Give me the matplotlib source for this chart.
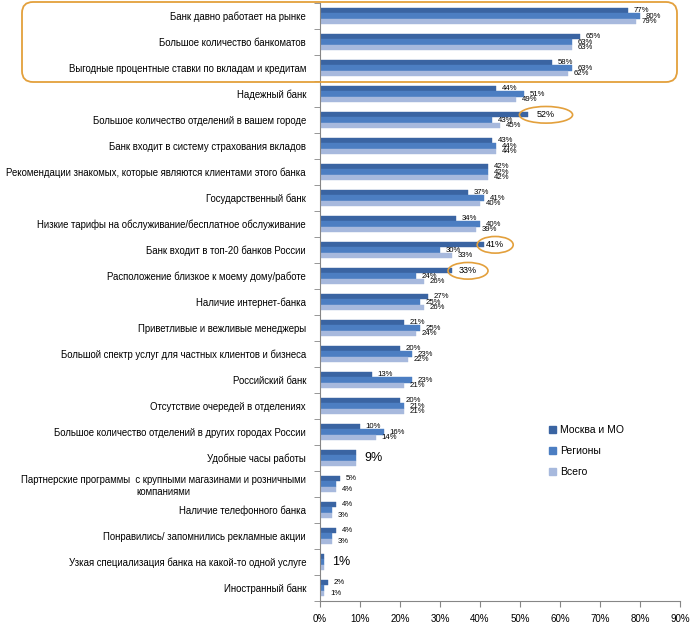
import matplotlib.pyplot as plt
import numpy as np
from matplotlib.patches import Ellipse, FancyBboxPatch, Patch
from matplotlib.transforms import IdentityTransform

plt.rcParams["font.family"] = ["Liberation Sans", "DejaVu Sans"]

categories = [
    "Банк давно работает на рынке",
    "Большое количество банкоматов",
    "Выгодные процентные ставки по вкладам и кредитам",
    "Надежный банк",
    "Большое количество отделений в вашем городе",
    "Банк входит в систему страхования вкладов",
    "Рекомендации знакомых, которые являются клиентами этого банка",
    "Государственный банк",
    "Низкие тарифы на обслуживание/бесплатное обслуживание",
    "Банк входит в топ-20 банков России",
    "Расположение близкое к моему дому/работе",
    "Наличие интернет-банка",
    "Приветливые и вежливые менеджеры",
    "Большой спектр услуг для частных клиентов и бизнеса",
    "Российский банк",
    "Отсутствие очередей в отделениях",
    "Большое количество отделений в других городах России",
    "Удобные часы работы",
    "Партнерские программы  с крупными магазинами и розничными\nкомпаниями",
    "Наличие телефонного банка",
    "Понравились/ запомнились рекламные акции",
    "Узкая специализация банка на какой-то одной услуге",
    "Иностранный банк",
]
moscow = [77, 65, 58, 44, 52, 43, 42, 37, 34, 41, 33, 27, 21, 20, 13, 20, 10, 9, 5, 4, 4, 1, 2]
regions = [80, 63, 63, 51, 43, 44, 42, 41, 40, 30, 24, 25, 25, 23, 23, 21, 16, 9, 4, 3, 3, 1, 1]
total = [79, 63, 62, 49, 45, 44, 42, 40, 39, 33, 26, 26, 24, 22, 21, 21, 14, 9, 4, 3, 3, 1, 1]
series_names = ["Москва и МО", "Регионы", "Всего"]
xticks = [0, 10, 20, 30, 40, 50, 60, 70, 80, 90]

colors = ["#3A64A2", "#4C7EC2", "#A7B9DD"]
orange = "#E3A03C"

# rows with a single big label, rows with only top/bottom labels, circled labels
single_label_rows = [17, 21]
two_label_rows = [18, 19, 20, 22]
circled = {4: (56.5, 13.3), 9: (43.8, 9.0), 10: (37.0, 10.0)}

fig = plt.figure(figsize=(6.92, 6.32), dpi=100)
ax = fig.add_axes([320 / 692, 31 / 632, 360 / 692, 598 / 632])

y = np.arange(len(categories))
h = 0.21
offsets = [-h, 0, h]
for vals, off, c in zip([moscow, regions, total], offsets, colors):
    ax.barh(y + off, vals, height=h, color=c, edgecolor=c, linewidth=0.3)

for i in y:
    vals = [moscow[i], regions[i], total[i]]
    if i in single_label_rows:
        ax.text(vals[0] + 2, i, f"{vals[0]}%", fontsize=9, va="center", ha="left")
        continue
    for k, (v, off) in enumerate(zip(vals, offsets)):
        if i in two_label_rows and k == 1:
            continue
        if i in circled and k == 0:
            cx, w = circled[i]
            ax.add_patch(Ellipse((cx, i - 0.2), w, 0.64, fill=False,
                                 edgecolor=orange, linewidth=1.2, clip_on=False))
            ax.text(cx, i - 0.2, f"{v}%", fontsize=6.5, va="center", ha="center")
            continue
        dx = 1.5 if i in two_label_rows else 1.4
        ax.text(v + dx, i + off, f"{v}%", fontsize=5.6, va="center", ha="left")

ax.set_xlim(0, 90)
ax.set_ylim(len(categories) - 0.5, -0.5)
ax.set_xticks(xticks)
ax.set_xticklabels([f"{t}%" for t in xticks], fontsize=7)
ax.set_yticks(y)
ax.set_yticklabels(categories, fontsize=6.9, multialignment="center")
ax.set_yticks(np.arange(len(categories) + 1) - 0.5, minor=True)
ax.tick_params(axis="y", which="major", length=0, pad=10)
ax.tick_params(axis="y", which="minor", length=4, color="#868686")
ax.tick_params(axis="x", length=4, color="#868686", pad=5)
for s in ["top", "right"]:
    ax.spines[s].set_visible(False)
for s in ["left", "bottom"]:
    ax.spines[s].set_color("#868686")

# orange rounded box around the top three reasons
fig.patches.append(FancyBboxPatch((22, 632 - 82), 655, 80,
                                  boxstyle="round,pad=0,rounding_size=11",
                                  fill=False, edgecolor=orange, linewidth=1.3,
                                  transform=IdentityTransform(), figure=fig))

handles = [Patch(facecolor=c, edgecolor=c) for c in colors]
fig.legend(handles, series_names, loc="upper left",
           bbox_to_anchor=(540 / 692, 1 - 416 / 632), frameon=False,
           fontsize=7.5, handlelength=0.6, handleheight=0.6,
           handletextpad=0.4, labelspacing=1.05)

fig.savefig("out.png", dpi=100)
